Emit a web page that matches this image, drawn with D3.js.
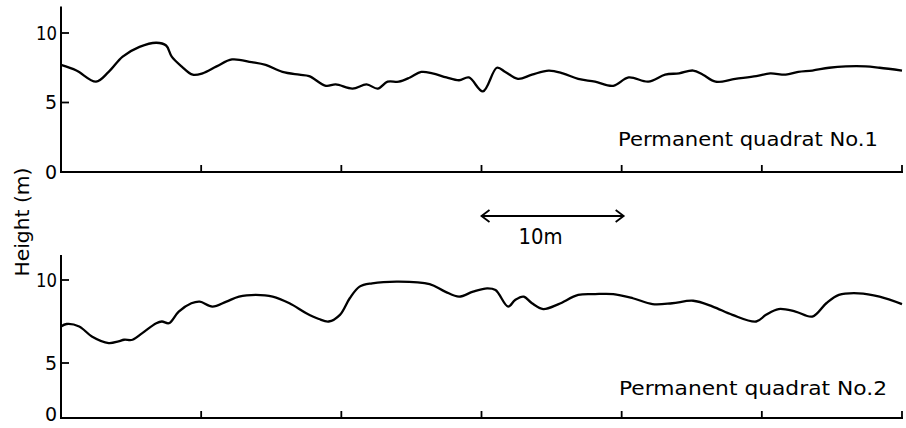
<!DOCTYPE html>
<html>
<head>
<meta charset="utf-8">
<script src="https://cdn.jsdelivr.net/npm/d3@7"></script>
<style>
  html, body { margin: 0; padding: 0; background: #fff; }
  svg { display: block; }
</style>
</head>
<body>
<div id="chart"></div>
<script>
// Canopy height profiles along two permanent quadrats
const distance1 = [0,1.1,2.5,3.4,4.4,5.6,6.8,7.5,7.9,8.6,9.4,10.1,11.1,12.2,13.6,14.6,15.8,17,17.7,18.9,
  19.6,20.8,21.8,22.6,23.3,24.1,24.9,25.7,26.5,27.5,28.4,29.1,30.1,31.1,31.7,32.6,33.6,34.8,35.8,36.9,
  38.1,39.4,40.5,41.9,43.1,44.1,45.1,45.8,46.7,48.1,49.6,50.6,51.7,52.6,53.6,54.8,56,57.4,58.4,60];
const height1 = [7.7,7.3,6.5,7.2,8.3,9.0,9.3,9.1,8.3,7.6,7.0,7.1,7.6,8.1,7.9,7.7,7.2,7.0,6.9,6.2,
  6.3,6.0,6.3,6.0,6.5,6.5,6.8,7.2,7.1,6.8,6.6,6.8,5.8,7.5,7.2,6.7,7.0,7.3,7.1,6.7,
  6.5,6.2,6.8,6.5,7.0,7.1,7.3,7.0,6.5,6.7,6.9,7.1,7.0,7.2,7.3,7.5,7.6,7.6,7.5,7.3];

const distance2 = [0,0.4,1.3,2.2,3.4,4.1,4.5,5.1,5.8,6.8,7.2,7.7,8.4,9.3,9.9,10.8,11.8,12.7,13.9,15.1,
  16.3,17.5,18.4,19.1,19.9,20.6,21.3,22.2,24.1,26.3,27.4,28.4,29.4,30.4,31,31.9,32.4,33,33.6,34.4,
  35.5,36.9,38.1,39.4,40.8,42.2,43.6,45.1,46.5,47.9,49.6,50.3,51.2,52.4,53.6,54.6,55.5,56.9,58.4,60];
const height2 = [7.2,7.35,7.2,6.6,6.2,6.3,6.4,6.4,6.8,7.4,7.5,7.4,8.1,8.6,8.7,8.4,8.7,9.0,9.1,9.0,
  8.6,8.0,7.65,7.5,7.9,8.9,9.6,9.8,9.9,9.75,9.3,9.0,9.3,9.5,9.4,8.4,8.8,9.0,8.6,8.25,
  8.55,9.1,9.15,9.15,8.9,8.55,8.6,8.75,8.4,7.9,7.5,7.9,8.25,8.1,7.8,8.6,9.1,9.2,9.0,8.55];

const yTicks = [0, 5, 10];
const xTicks = [10, 20, 30, 40, 50, 60];
const labels = ["Permanent quadrat  No.1", "Permanent quadrat No.2"];

const width = 906, height = 428;
const font = "'DejaVu Sans', sans-serif";

const svg = d3.select("#chart")
  .append("svg")
  .attr("width", width)
  .attr("height", height)
  .style("font-family", font);

const x = d3.scaleLinear().domain([0, 60]).range([61, 902]);

// the scan is not quite even vertically, so each panel gets its own scale
const panels = [
  { dist: distance1, h: height1, label: labels[0],
    y: d3.scaleLinear().domain([0, 10]).range([172, 33]), yTop: 11.9,
    labelX: 618, labelY: 146, labelW: 260 },
  { dist: distance2, h: height2, label: labels[1],
    y: d3.scaleLinear().domain([0, 5, 10]).range([418, 363, 280]), yTop: 11.5,
    labelX: 619, labelY: 395, labelW: 268 }
];

const line = d3.line().curve(d3.curveCatmullRom.alpha(0.5));

panels.forEach(p => {
  const g = svg.append("g");
  const y0 = p.y(0);

  // axes
  g.append("line")
    .attr("x1", x(0)).attr("x2", x(0))
    .attr("y1", p.y(p.yTop)).attr("y2", y0 + 1)
    .attr("stroke", "#000").attr("stroke-width", 2);
  g.append("line")
    .attr("x1", x(0) - 1).attr("x2", x(60) + 1)
    .attr("y1", y0).attr("y2", y0)
    .attr("stroke", "#000").attr("stroke-width", 2);

  // y ticks point inward
  g.selectAll(".yt")
    .data(yTicks.filter(d => d > 0))
    .enter().append("line")
      .attr("x1", x(0)).attr("x2", x(0) + 8)
      .attr("y1", d => p.y(d)).attr("y2", d => p.y(d))
      .attr("stroke", "#000").attr("stroke-width", 1.8);
  g.selectAll(".yl")
    .data(yTicks)
    .enter().append("text")
      .attr("x", 57)
      .attr("y", d => Math.min(p.y(d), 414))   // keep the lowest 0 inside the frame
      .attr("dy", "0.36em")
      .attr("text-anchor", "end")
      .attr("font-size", "19px")
      .attr("textLength", d => d === 10 ? 21 : null)
      .attr("lengthAdjust", "spacingAndGlyphs")
      .text(d => d);

  // x ticks point up
  g.selectAll(".xt")
    .data(xTicks)
    .enter().append("line")
      .attr("x1", d => x(d)).attr("x2", d => x(d))
      .attr("y1", y0).attr("y2", y0 - 7)
      .attr("stroke", "#000").attr("stroke-width", 1.8);

  // profile
  g.append("path")
    .datum(p.dist.map((d, i) => [x(d), p.y(p.h[i])]))
    .attr("d", line)
    .attr("fill", "none")
    .attr("stroke", "#000")
    .attr("stroke-width", 2.3)
    .attr("stroke-linejoin", "round");

  g.append("text")
    .attr("x", p.labelX)
    .attr("y", p.labelY)
    .attr("font-size", "20px")
    .attr("textLength", p.labelW)
    .attr("lengthAdjust", "spacingAndGlyphs")
    .text(p.label);
});

// y axis title
svg.append("text")
  .attr("transform", "translate(29,222) rotate(-90)")
  .attr("text-anchor", "middle")
  .attr("font-size", "19px")
  .attr("textLength", 109)
  .attr("lengthAdjust", "spacingAndGlyphs")
  .text("Height (m)");

// 10 m scale bar
const barY = 216;
const barX1 = x(30), barX2 = x(40) + 2;
svg.append("line")
  .attr("x1", barX1).attr("x2", barX2)
  .attr("y1", barY).attr("y2", barY)
  .attr("stroke", "#000").attr("stroke-width", 1.8);
[[barX1, 1], [barX2, -1]].forEach(([bx, dir]) => {
  svg.append("path")
    .attr("d", `M${bx + dir * 8},${barY - 6}L${bx},${barY}L${bx + dir * 8},${barY + 6}`)
    .attr("fill", "none")
    .attr("stroke", "#000").attr("stroke-width", 1.8);
});
svg.append("text")
  .attr("x", (barX1 + barX2) / 2 - 12)
  .attr("y", 244)
  .attr("text-anchor", "middle")
  .attr("font-size", "21px")
  .attr("textLength", 44)
  .attr("lengthAdjust", "spacingAndGlyphs")
  .text("10m");
</script>
</body>
</html>
